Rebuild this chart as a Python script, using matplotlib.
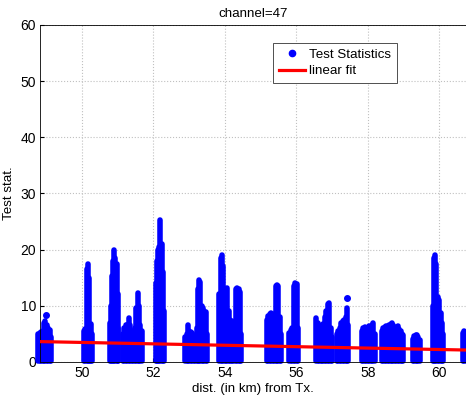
import matplotlib.pyplot as plt
from matplotlib.lines import Line2D

plt.rcParams['font.family'] = ['Liberation Sans', 'DejaVu Sans']

# each vertical streak of test statistics: distance (km) and top value
col_x = [
    48.78, 48.82, 48.86, 48.90, 48.94, 48.98, 49.02, 49.06, 49.10, 49.14,
    50.07, 50.10, 50.13, 50.16, 50.19, 50.22, 50.25, 50.28,
    50.79, 50.82, 50.85, 50.88, 50.91, 50.94, 50.97, 51.00, 51.02,
    51.15, 51.19, 51.23, 51.27, 51.31, 51.35, 51.39,
    51.44, 51.48, 51.52, 51.56, 51.60, 51.64, 51.68,
    52.08, 52.11, 52.14, 52.17, 52.20, 52.23, 52.26, 52.29,
    52.89, 52.93, 52.97, 53.01, 53.05, 53.09, 53.13, 53.17,
    53.22, 53.25, 53.28, 53.31, 53.35, 53.39, 53.43, 53.47, 53.50,
    53.85, 53.89, 53.92, 53.96, 54.00, 54.04, 54.07, 54.11, 54.15, 54.19, 54.21,
    54.27, 54.31, 54.35, 54.39, 54.43, 54.46,
    55.18, 55.22, 55.26, 55.30, 55.34, 55.38, 55.42, 55.46, 55.50, 55.54, 55.58,
    55.81, 55.85, 55.89, 55.93, 55.97, 56.01, 56.05,
    56.56, 56.60, 56.64, 56.68, 56.72, 56.76, 56.80, 56.84, 56.88, 56.92, 56.96, 57.00,
    57.14, 57.18, 57.22, 57.26, 57.30, 57.34, 57.38, 57.42, 57.46,
    57.84, 57.88, 57.92, 57.96, 58.00, 58.04, 58.08, 58.12, 58.16, 58.21,
    58.40, 58.44, 58.48, 58.52, 58.56, 58.60, 58.64, 58.68, 58.72, 58.76, 58.80,
    58.84, 58.88, 58.92, 58.96, 59.00,
    59.26, 59.30, 59.34, 59.38, 59.42, 59.46,
    59.82, 59.86, 59.89, 59.92, 59.96, 60.00, 60.04, 60.08, 60.12,
    60.66, 60.70, 60.74,
]
col_top = [
    5.0, 5.2, 5.3, 5.5, 7.0, 7.3, 6.5, 6.0, 5.6, 4.5,
    5.5, 5.8, 16.5, 17.4, 15.0, 6.5, 6.8, 5.0,
    7.0, 10.0, 15.2, 18.0, 20.0, 18.5, 17.5, 12.0, 6.0,
    5.0, 6.0, 6.5, 6.6, 7.8, 6.5, 5.5,
    4.5, 6.0, 9.5, 12.3, 10.0, 6.5, 5.5,
    14.0, 18.0, 20.0, 20.5, 25.3, 21.0, 16.0, 9.0,
    4.5, 5.0, 6.6, 5.4, 5.3, 5.2, 4.8, 4.0,
    6.0, 13.0, 14.6, 14.3, 10.0, 9.5, 9.0, 8.8, 5.0,
    12.0, 18.5, 19.0, 17.0, 13.0, 12.5, 13.1, 9.0, 7.5, 7.2, 5.0,
    6.0, 13.0, 13.2, 13.0, 12.5, 5.0,
    7.5, 8.2, 8.5, 8.7, 8.5, 8.0, 13.5, 13.7, 13.5, 8.0, 5.0,
    5.2, 5.7, 6.0, 13.5, 14.0, 13.8, 6.0,
    7.8, 7.0, 6.5, 6.0, 5.5, 6.8, 8.0, 9.0, 10.3, 10.5, 6.0, 4.5,
    5.0, 5.5, 6.0, 7.0, 7.3, 7.5, 8.0, 9.6, 6.5,
    5.5, 6.0, 6.2, 6.0, 5.8, 6.3, 5.5, 6.5, 6.9, 5.0,
    5.5, 6.0, 6.2, 6.3, 6.4, 6.6, 6.8, 7.0, 6.5, 6.2, 6.0,
    6.3, 5.8, 5.5, 5.0, 4.8,
    4.0, 4.6, 4.8, 4.7, 4.5, 3.8,
    10.0, 18.5, 19.0, 17.5, 11.6, 11.0, 8.7, 7.0, 5.0,
    5.2, 5.4, 5.3,
]
# detached points above the streaks
dot_x = [48.99, 57.42]
dot_y = [8.3, 11.3]

fit_x = [48.83, 60.75]
fit_y = [3.6, 2.1]

fig = plt.figure(figsize=(4.66, 3.95), dpi=100)
ax = fig.add_axes([0.086, 0.084, 0.914, 0.853])

ax.vlines(col_x, 0.1, col_top, colors='blue', linewidth=4.0,
          capstyle='round', clip_on=False, zorder=2)
ax.plot(dot_x, dot_y, 'o', color='blue', markersize=4, zorder=2)
ax.plot(fit_x, fit_y, '-', color='red', linewidth=2.3, zorder=3)

ax.set_xlim(48.83, 60.75)
ax.set_ylim(0, 60)
ax.set_xticks([50, 52, 54, 56, 58, 60])
ax.set_yticks([0, 10, 20, 30, 40, 50, 60])
ax.tick_params(direction='in', labelsize=10, length=3, pad=3)
ax.grid(True, linestyle=':', color='#c0c0c0', linewidth=0.8)
ax.set_axisbelow(True)
ax.spines['right'].set_visible(False)
for s in ['left', 'bottom', 'top']:
    ax.spines[s].set_linewidth(0.6)

ax.set_title('channel=47', fontsize=9.6, pad=6)
ax.set_xlabel('dist. (in km) from Tx.', fontsize=9.6, labelpad=2)
ax.set_ylabel('Test stat.', fontsize=9.6, labelpad=4)

handles = [
    Line2D([], [], marker='o', linestyle='none', color='blue', markersize=4.5),
    Line2D([], [], color='red', linewidth=2.3),
]
leg = ax.legend(handles, ['Test Statistics', 'linear fit'], loc='upper left',
                bbox_to_anchor=(0.546, 0.947), fontsize=9.6, fancybox=False,
                framealpha=1, edgecolor='#333333', handlelength=2.0,
                handletextpad=0.25, borderpad=0.45, borderaxespad=0,
                labelspacing=0.3)
leg.get_frame().set_linewidth(0.6)

plt.savefig('out.png', dpi=100)
